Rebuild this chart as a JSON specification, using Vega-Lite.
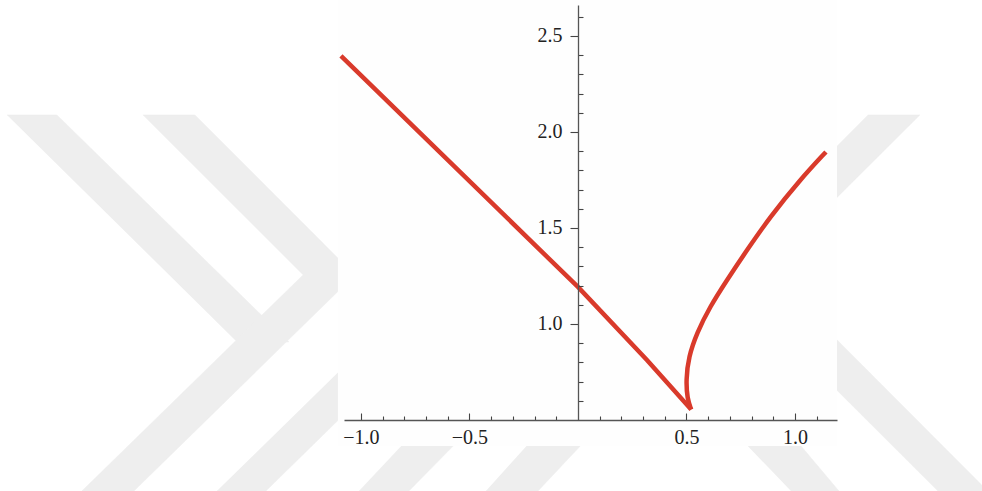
{
  "$schema": "https://vega.github.io/schema/vega-lite/v6.json",
  "autosize": {"type": "none"},
  "width": 493,
  "height": 415,
  "padding": {"left": 344, "top": 5, "right": 145, "bottom": 71},
  "background": "#ffffff",
  "config": {"view": {"stroke": null}},
  "datasets": {
    "watermark": [
      {"shape": "W1", "k": 0, "x": -2.631, "y": 2.0885},
      {"shape": "W1", "k": 1, "x": -2.401, "y": 2.0885},
      {"shape": "W1", "k": 2, "x": -1.332, "y": 0.9063},
      {"shape": "W1", "k": 3, "x": -1.571, "y": 0.9063},
      {"shape": "W2", "k": 0, "x": -2.005, "y": 2.0885},
      {"shape": "W2", "k": 1, "x": -1.765, "y": 2.0885},
      {"shape": "W2", "k": 2, "x": -1.028, "y": 1.2552},
      {"shape": "W2", "k": 3, "x": -2.046, "y": 0.1302},
      {"shape": "W2", "k": 4, "x": -2.286, "y": 0.1302},
      {"shape": "W2", "k": 5, "x": -1.267, "y": 1.2552},
      {"shape": "W3", "k": 0, "x": -0.765, "y": 1.125},
      {"shape": "W3", "k": 1, "x": -0.539, "y": 1.125},
      {"shape": "W3", "k": 2, "x": -1.438, "y": 0.1302},
      {"shape": "W3", "k": 3, "x": -1.664, "y": 0.1302},
      {"shape": "W4", "k": 0, "x": -0.788, "y": 0.3958},
      {"shape": "W4", "k": 1, "x": -0.548, "y": 0.3958},
      {"shape": "W4", "k": 2, "x": -0.779, "y": 0.1302},
      {"shape": "W4", "k": 3, "x": -1.009, "y": 0.1302},
      {"shape": "W5", "k": 0, "x": -0.212, "y": 0.3958},
      {"shape": "W5", "k": 1, "x": 0.037, "y": 0.3958},
      {"shape": "W5", "k": 2, "x": -0.184, "y": 0.1302},
      {"shape": "W5", "k": 3, "x": -0.424, "y": 0.1302},
      {"shape": "W6", "k": 0, "x": 0.756, "y": 0.3958},
      {"shape": "W6", "k": 1, "x": 1.005, "y": 0.3958},
      {"shape": "W6", "k": 2, "x": 1.203, "y": 0.1302},
      {"shape": "W6", "k": 3, "x": 0.982, "y": 0.1302},
      {"shape": "W7", "k": 0, "x": 1.336, "y": 2.0885},
      {"shape": "W7", "k": 1, "x": 1.576, "y": 2.0885},
      {"shape": "W7", "k": 2, "x": 0.866, "y": 1.289},
      {"shape": "W7", "k": 3, "x": 1.889, "y": 0.1302},
      {"shape": "W7", "k": 4, "x": 1.659, "y": 0.1302},
      {"shape": "W7", "k": 5, "x": 0.631, "y": 1.289}
    ],
    "frame": [
      {"x1": -1.106, "x2": 1.194, "y1": 0.3646, "y2": 2.6875}
    ],
    "curve": [
      {"branch": "left", "i": 0, "x": -1.092, "y": 2.396},
      {"branch": "left", "i": 1, "x": 0.0, "y": 1.193},
      {"branch": "left", "i": 2, "x": 0.318, "y": 0.8125},
      {"branch": "left", "i": 3, "x": 0.522, "y": 0.555},
      {"branch": "right", "i": 0, "x": 0.522, "y": 0.555},
      {"branch": "right", "i": 1, "x": 0.504, "y": 0.61},
      {"branch": "right", "i": 2, "x": 0.498, "y": 0.708},
      {"branch": "right", "i": 3, "x": 0.51, "y": 0.828},
      {"branch": "right", "i": 4, "x": 0.548, "y": 0.953},
      {"branch": "right", "i": 5, "x": 0.608, "y": 1.089},
      {"branch": "right", "i": 6, "x": 0.687, "y": 1.229},
      {"branch": "right", "i": 7, "x": 0.779, "y": 1.385},
      {"branch": "right", "i": 8, "x": 0.885, "y": 1.557},
      {"branch": "right", "i": 9, "x": 1.023, "y": 1.75},
      {"branch": "right", "i": 10, "x": 1.143, "y": 1.896}
    ]
  },
  "layer": [
    {
      "data": {"name": "watermark"},
      "mark": {"type": "line", "fill": "#eeeeee", "stroke": "#eeeeee", "strokeWidth": 0.5, "clip": false},
      "encoding": {
        "x": {"field": "x", "type": "quantitative",
              "scale": {"domain": [-1.078, 1.194], "nice": false, "zero": false},
              "axis": {
                "title": null, "orient": "bottom", "zindex": 1,
                "tickCount": 60,
                "values": [-1.0, -0.9, -0.8, -0.7, -0.6, -0.5, -0.4, -0.3, -0.2, -0.1, 0.1, 0.2, 0.3, 0.4, 0.5, 0.6, 0.7, 0.8, 0.9, 1.0, 1.1],
                "labelExpr": "abs(datum.value*2 - round(datum.value*2)) < 0.001 ? format(datum.value, '.1f') : ''",
                "grid": false,
                "domainColor": "#555555", "domainWidth": 1.3,
                "tickColor": "#444444", "tickWidth": 1.1,
                "tickSize": {"condition": {"test": "abs(datum.value*2 - round(datum.value*2)) < 0.001", "value": -7}, "value": -4},
                "labelFont": "Liberation Serif", "labelFontSize": 20, "labelColor": "#222222",
                "labelPadding": 14, "labelFlush": false, "labelOverlap": false, "labelBound": false
              }},
        "y": {"field": "y", "type": "quantitative",
              "scale": {"domain": [0.5, 2.661], "nice": false, "zero": false},
              "axis": {
                "title": null, "orient": "left", "zindex": 1,
                "offset": -234,
                "tickCount": 60,
                "values": [0.6, 0.7, 0.8, 0.9, 1.0, 1.1, 1.2, 1.3, 1.4, 1.5, 1.6, 1.7, 1.8, 1.9, 2.0, 2.1, 2.2, 2.3, 2.4, 2.5, 2.6],
                "labelExpr": "abs(datum.value*2 - round(datum.value*2)) < 0.001 ? format(datum.value, '.1f') : ''",
                "grid": false,
                "domainColor": "#555555", "domainWidth": 1.3,
                "tickColor": "#444444", "tickWidth": 1.1,
                "tickSize": {"condition": {"test": "abs(datum.value*2 - round(datum.value*2)) < 0.001", "value": 8}, "value": -5},
                "labelFont": "Liberation Serif", "labelFontSize": 20, "labelColor": "#222222",
                "labelPadding": 8, "labelFlush": false, "labelOverlap": false, "labelBound": false
              }},
        "detail": {"field": "shape"},
        "order": {"field": "k", "type": "quantitative"}
      }
    },
    {
      "data": {"name": "frame"},
      "mark": {"type": "rect", "color": "#fefefe", "clip": false},
      "encoding": {
        "x": {"field": "x1", "type": "quantitative",
              "scale": {"domain": [-1.078, 1.194], "nice": false, "zero": false}},
        "x2": {"field": "x2"},
        "y": {"field": "y1", "type": "quantitative",
              "scale": {"domain": [0.5, 2.661], "nice": false, "zero": false}},
        "y2": {"field": "y2"}
      }
    },
    {
      "data": {"name": "curve"},
      "transform": [{"filter": "datum.branch === 'left'"}],
      "mark": {"type": "line", "color": "#d93a2b", "strokeWidth": 4.5, "strokeCap": "butt", "clip": false},
      "encoding": {
        "x": {"field": "x", "type": "quantitative",
              "scale": {"domain": [-1.078, 1.194], "nice": false, "zero": false}},
        "y": {"field": "y", "type": "quantitative",
              "scale": {"domain": [0.5, 2.661], "nice": false, "zero": false}},
        "order": {"field": "i", "type": "quantitative"}
      }
    },
    {
      "data": {"name": "curve"},
      "transform": [{"filter": "datum.branch === 'right'"}],
      "mark": {"type": "line", "color": "#d93a2b", "strokeWidth": 4.5, "strokeCap": "butt", "interpolate": "basis", "clip": false},
      "encoding": {
        "x": {"field": "x", "type": "quantitative",
              "scale": {"domain": [-1.078, 1.194], "nice": false, "zero": false}},
        "y": {"field": "y", "type": "quantitative",
              "scale": {"domain": [0.5, 2.661], "nice": false, "zero": false}},
        "order": {"field": "i", "type": "quantitative"}
      }
    }
  ]
}
